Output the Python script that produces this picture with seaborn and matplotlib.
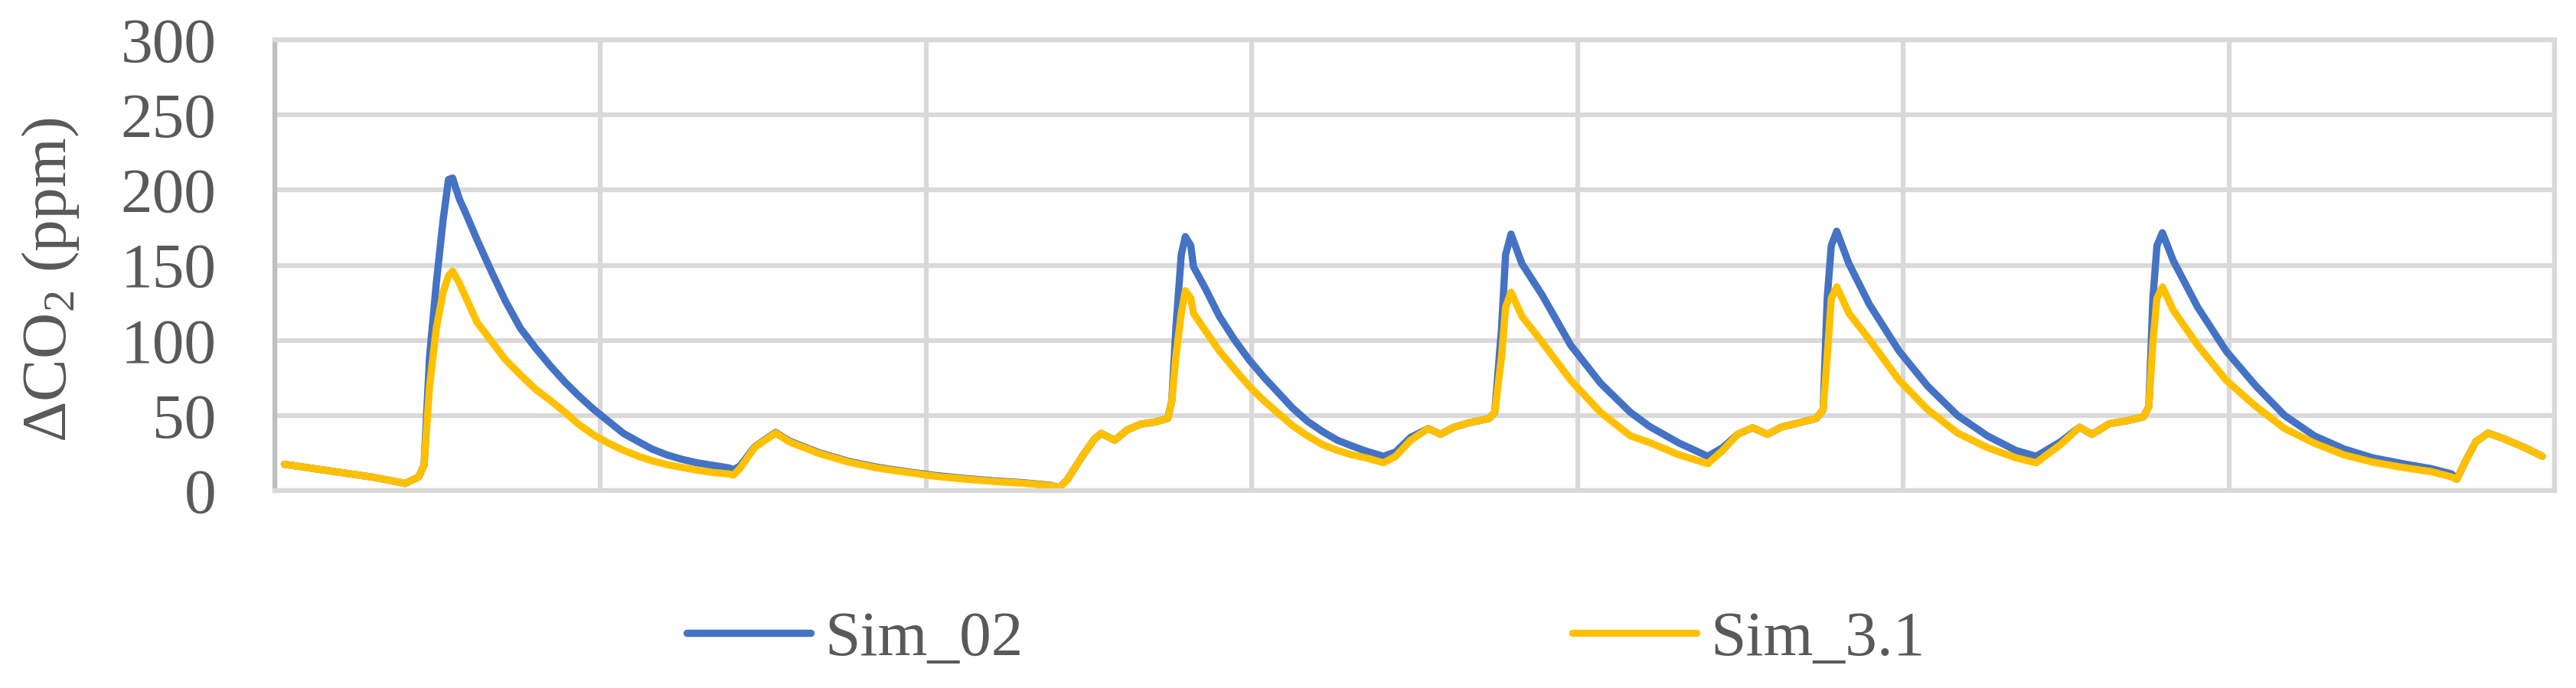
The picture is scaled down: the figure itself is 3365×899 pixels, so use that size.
import numpy as np
import pandas as pd
import matplotlib
matplotlib.use('Agg')
import matplotlib.pyplot as plt
import seaborn as sns

# Hours since start of the week
hours = [0.7, 4.1, 7.3, 9.3, 9.6, 10.6, 11.0, 11.4, 11.9, 12.4, 12.8, 13.1, 13.6, 14.0,
         14.9, 16.0, 17.0, 18.1, 19.2, 20.3, 21.4, 22.4, 23.5, 24.6, 25.7, 26.8, 27.8,
         28.9, 30.0, 31.1, 32.2, 33.5, 33.8, 34.3, 35.35, 36.9, 37.9, 40.1, 42.3, 44.4,
         46.6, 48.7, 50.9, 53.1, 55.2, 57.2, 57.8, 58.4, 59.5, 60.4, 60.9, 61.9, 62.8,
         63.8, 64.9, 65.8, 66.1, 66.4, 66.8, 67.1, 67.5, 67.7, 68.6, 69.6, 70.7, 71.8,
         72.9, 74.0, 75.0, 76.1, 77.2, 78.3, 79.4, 80.4, 81.7, 82.6, 83.7, 85.0, 85.9,
         86.9, 88.0, 89.5, 89.9, 90.4, 90.7, 91.1, 91.9, 93.4, 95.5, 97.7, 99.9, 101.3,
         103.5, 105.6, 106.7, 107.8, 108.9, 110.0, 111.0, 112.6, 113.6, 114.1, 114.4,
         114.7, 115.1, 116.0, 117.5, 119.7, 121.8, 124.0, 126.2, 128.3, 129.8, 131.6,
         133.0, 133.9, 135.2, 136.5, 137.7, 138.1, 138.4, 138.7, 139.1, 139.9, 141.7,
         143.8, 146.0, 148.1, 150.3, 152.5, 154.6, 156.8, 158.9, 160.4, 160.8, 161.4,
         162.2, 163.1, 164.3, 165.8, 167.1]

sim_02 = [17.5, 13.0, 8.8, 5.3, 4.7, 9.1, 17, 89, 138, 180, 207, 208, 194, 186,
          167, 145, 126, 108, 95, 83, 72, 63, 54, 46, 38, 32.5, 27.6,
          23.7, 20.8, 18.5, 16.9, 15.0, 13.8, 16.5, 29, 38.7, 33, 25.2, 19.4, 15.5,
          12.5, 10, 8, 6.4, 5.2, 3.5, 1.9, 7.2, 22.8, 34.4, 38, 33.5, 40.3,
          44.2, 45.7, 48, 59.7, 108, 157, 169, 163, 149, 134, 116, 100.6, 87,
          75.3, 64.6, 54.9, 46.1, 39.3, 33.5, 29.6, 26.3, 22.8, 25.7, 35.4, 41.3, 37.4,
          42.2, 45.1, 48, 52, 108, 157, 170.7, 151, 130, 96.7, 71.4, 52, 42.7,
          31.5, 22.8, 28.6, 37.4, 41.8, 37.4, 42.2, 45.7, 48, 53.9, 128,
          163, 172.6, 151, 124, 92.8, 69.5, 50, 36.4, 26.7, 22.8, 32.5,
          42.2, 37.4, 44.5, 46.5, 49, 55.9, 128, 163, 171.6, 153, 122,
          92.8, 69.5, 50, 36.4, 27.6, 21.8, 17.9, 14.6, 11.1, 7.6, 18.9,
          32.5, 38.3, 34.4, 28.6, 22.8]

sim_3_1 = [17.5, 13.0, 8.8, 5.3, 4.7, 9.1, 17, 69, 108, 132, 143, 146, 138, 130,
           112, 99, 87, 77, 67.5, 60, 52, 44, 37, 31.5, 26.7, 22.8, 19.8,
           17.3, 15.4, 13.6, 12.1, 11.0, 10.3, 15, 28.6, 38.3, 32.5, 24.7, 18.9, 15,
           12.1, 9.5, 7.6, 6.0, 4.9, 3.3, 1.8, 7.2, 22.8, 34.4, 38, 33.5, 40.3,
           44.2, 45.7, 48, 59.7, 89, 118, 133, 128, 118, 106, 93, 81, 69.5,
           59.7, 51, 43.2, 36.4, 30.6, 26.7, 23.7, 21.8, 18.5, 22.8, 33.5, 41.3, 37.4,
           42.2, 45.1, 48, 52, 89, 122, 132, 116, 98.7, 73.4, 52, 36.4, 32,
           23.7, 17.9, 26.7, 37.4, 41.8, 37.4, 42.2, 45.7, 48, 53.9, 89,
           128, 135.6, 118, 100.6, 73.4, 53.9, 38.3, 28.6, 21.8, 18.5, 30.6,
           42.2, 37.4, 44.5, 46.5, 49, 55.9, 98.7, 128, 135.6, 120, 96.7,
           73.4, 55.9, 41.3, 31.5, 23.7, 18.9, 15.4, 12.6, 9.1, 7.6, 18.9,
           32.5, 38.3, 34.4, 28.6, 22.8]

series_names = ['Sim_02', 'Sim_3.1']
colors = ['#4472C4', '#FFC000']
y_ticks = [0, 50, 100, 150, 200, 250, 300]
day_edges = [0, 24, 48, 72, 96, 120, 144, 168]

df = pd.DataFrame({
    'hour': hours * 2,
    'value': sim_02 + sim_3_1,
    'series': [series_names[0]] * len(hours) + [series_names[1]] * len(hours),
})

sns.set_theme(style='white')
plt.rcParams['font.family'] = ['Liberation Serif', 'DejaVu Serif']
plt.rcParams['mathtext.fontset'] = 'custom'
plt.rcParams['mathtext.rm'] = 'Liberation Serif'
plt.rcParams['mathtext.default'] = 'regular'

W, H = 3365, 899
fig = plt.figure(figsize=(W / 100, H / 100), dpi=100)
ax = fig.add_axes([359 / W, 1 - 641 / H, (3337 - 359) / W, (641 - 52) / H])

sns.lineplot(data=df, x='hour', y='value', hue='series', palette=colors,
             estimator=None, sort=False, linewidth=6.8, ax=ax,
             solid_joinstyle='round', solid_capstyle='round')

grid_col = '#D9D9D9'
ax.set_xlim(0, 168)
ax.set_ylim(0, 300)
ax.set_yticks(y_ticks)
ax.set_xticks(day_edges)
ax.set_xticklabels([])
ax.grid(True, color=grid_col, linewidth=4.5)
ax.set_axisbelow(True)
for side in ['top', 'right', 'bottom']:
    ax.spines[side].set_color(grid_col)
    ax.spines[side].set_linewidth(4.5)
ax.spines['left'].set_color('#BFBFBF')
ax.spines['left'].set_linewidth(4.5)

ax.tick_params(axis='both', length=0)
ax.tick_params(axis='y', labelsize=60, labelcolor='#595959', pad=55)
ax.set_xlabel('')
ax.set_ylabel('ΔCO$_2$ (ppm)', fontsize=60, color='#595959')
ax.yaxis.set_label_coords(-0.085, 0.467)

sns.move_legend(ax, 'center', bbox_to_anchor=(0.4523, -0.331), ncol=2, title=None,
                frameon=False, fontsize=60, handlelength=1.95, handletextpad=0.22,
                columnspacing=8.6, labelcolor='#595959')

fig.savefig('out.png', dpi=100, facecolor='white')
